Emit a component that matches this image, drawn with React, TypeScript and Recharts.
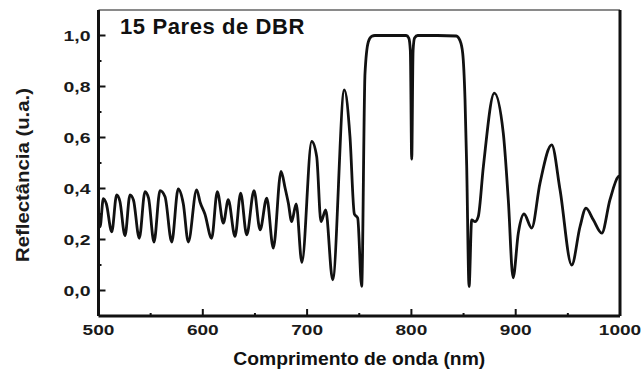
import React from 'react';
import { LineChart, Line, XAxis, YAxis, Label, ReferenceLine } from 'recharts';

// Reflectance spectrum of a 15-pair DBR
const wavelengths = [
  500, 501.5, 504.6, 507.5, 512.7, 517.4, 520.5, 525.4, 530.2, 533.5, 539.1, 544.6, 548, 553.2,
  559, 563.8, 570.2, 576.4, 581.3, 586.1, 594.1, 597.5, 602, 608.5, 613.9, 619.7, 624.4, 630.9,
  636.3, 642.1, 649.1, 654.9, 661.3, 667.6, 675, 679, 682, 685.2, 689.5, 695, 704.4, 709.2,
  713.3, 717.8, 724.5, 735.7, 741.1, 745.3, 748.5, 752.3, 755.5, 758.7, 762, 765, 780, 795,
  797.5, 799, 800.3, 801.6, 803, 806, 825, 843, 846.6, 849.2, 851.4, 853, 855.3, 857.8, 861,
  864.1, 869, 879.5, 888.1, 892.9, 897.5, 902.5, 908, 915.3, 923.3, 934.5, 942.5, 953.7, 961.7,
  967.4, 974.4, 982.5, 990.4, 998.4, 1000,
];

const reflectance = [
  0.3, 0.25, 0.36, 0.34, 0.23, 0.375, 0.35, 0.215, 0.375, 0.355, 0.205, 0.388, 0.362, 0.19,
  0.392, 0.368, 0.19, 0.398, 0.34, 0.19, 0.395, 0.345, 0.3, 0.205, 0.388, 0.264, 0.356, 0.212,
  0.382, 0.218, 0.392, 0.238, 0.362, 0.166, 0.467, 0.4, 0.343, 0.27, 0.34, 0.11, 0.585, 0.525,
  0.27, 0.316, 0.042, 0.787, 0.604, 0.3, 0.284, 0.016, 0.85, 0.975, 0.997, 1.0, 1.0, 1.0,
  0.99, 0.94, 0.515, 0.94, 0.99, 1.0, 1.0, 0.998, 0.98, 0.93, 0.75, 0.49, 0.016, 0.277, 0.27,
  0.29, 0.486, 0.774, 0.617, 0.356, 0.05, 0.225, 0.3, 0.245, 0.421, 0.571, 0.395, 0.1, 0.251,
  0.323, 0.277, 0.225, 0.356, 0.447, 0.45,
];

const xTicks = [500, 550, 600, 650, 700, 750, 800, 850, 900, 950, 1000];
const yTicks = [0, 0.1, 0.2, 0.3, 0.4, 0.5, 0.6, 0.7, 0.8, 0.9, 1.0];
const X_DOMAIN = [500, 1000];
const Y_DOMAIN = [-0.1, 1.1];

const data = wavelengths.map((wl, i) => ({ wl, r: reflectance[i] }));

const FONT = '"Liberation Sans", Arial, sans-serif';

// ticks point into the plot; minor ticks carry no label
const XTick = ({ x, y, payload }: any) => {
  const v = payload.value;
  const major = v % 100 === 0;
  const label = String(v);
  return (
    <g>
      <line x1={x} y1={y} x2={x} y2={y - (major ? 7 : 3)} stroke="#111" strokeWidth={2} />
      {major && (
        <text
          x={x}
          y={y + 19}
          textAnchor="middle"
          fontFamily={FONT}
          fontWeight="bold"
          fontSize={15}
          fill="#1a1a1a"
          textLength={label.length * 10.6}
          lengthAdjust="spacingAndGlyphs"
        >
          {label}
        </text>
      )}
    </g>
  );
};

const YTick = ({ x, y, payload }: any) => {
  const v = payload.value;
  const major = Math.round(v * 10) % 2 === 0;
  return (
    <g>
      <line x1={x} y1={y} x2={x + (major ? 7 : 3)} y2={y} stroke="#111" strokeWidth={2} />
      {major && (
        <text
          x={x - 8}
          y={y}
          dy="0.36em"
          textAnchor="end"
          fontFamily={FONT}
          fontWeight="bold"
          fontSize={15}
          fill="#1a1a1a"
          textLength={27}
          lengthAdjust="spacingAndGlyphs"
        >
          {v.toFixed(1).replace('.', ',')}
        </text>
      )}
    </g>
  );
};

export default function App() {
  return (
    <div style={{ position: 'absolute', left: 0, top: 0, width: 643, height: 372, background: '#fff' }}>
      <LineChart width={643} height={372} data={data} margin={{ top: 10, right: 23, bottom: 0, left: 0 }}>
        <XAxis
          xAxisId="x"
          dataKey="wl"
          type="number"
          domain={X_DOMAIN}
          ticks={xTicks}
          height={56}
          tickSize={0}
          tickMargin={0}
          tickLine={false}
          tick={<XTick />}
          axisLine={{ stroke: '#111', strokeWidth: 3 }}
          interval={0}
        >
          <Label
            content={({ viewBox }: any) => (
              <text
                x={viewBox.x + viewBox.width / 2}
                y={viewBox.y + 49}
                textAnchor="middle"
                fontFamily={FONT}
                fontWeight="bold"
                fontSize={19}
                fill="#111"
                textLength={252}
                lengthAdjust="spacingAndGlyphs"
              >
                Comprimento de onda (nm)
              </text>
            )}
          />
        </XAxis>
        <YAxis
          yAxisId="y"
          type="number"
          domain={Y_DOMAIN}
          ticks={yTicks}
          width={98.5}
          tickSize={0}
          tickMargin={0}
          tickLine={false}
          tick={<YTick />}
          axisLine={{ stroke: '#111', strokeWidth: 3 }}
          interval={0}
        >
          <Label
            content={() => {
              const cx = 29;
              const cy = 175;
              return (
                <text
                  x={cx}
                  y={cy}
                  transform={`rotate(-90, ${cx}, ${cy})`}
                  textAnchor="middle"
                  fontFamily={FONT}
                  fontWeight="bold"
                  fontSize={18}
                  fill="#1a1a1a"
                  textLength={174}
                  lengthAdjust="spacingAndGlyphs"
                >
                  Reflectância (u.a.)
                </text>
              );
            }}
          />
        </YAxis>
        {/* box frame: light top edge, heavy right edge */}
        <ReferenceLine xAxisId="x" yAxisId="y" y={Y_DOMAIN[1]} stroke="#8a8a8a" strokeWidth={2} />
        <ReferenceLine xAxisId="x" yAxisId="y" x={X_DOMAIN[1]} stroke="#111" strokeWidth={3} />
        <Line
          xAxisId="x"
          yAxisId="y"
          type="monotone"
          dataKey="r"
          stroke="#111"
          strokeWidth={2.8}
          dot={false}
          isAnimationActive={false}
        />
      </LineChart>
      <div
        style={{
          position: 'absolute',
          left: 120,
          top: 15,
          fontFamily: FONT,
          fontWeight: 'bold',
          fontSize: 22,
          letterSpacing: 0.6,
          color: '#111',
          lineHeight: '24px',
          whiteSpace: 'nowrap',
        }}
      >
        15 Pares de DBR
      </div>
    </div>
  );
}
